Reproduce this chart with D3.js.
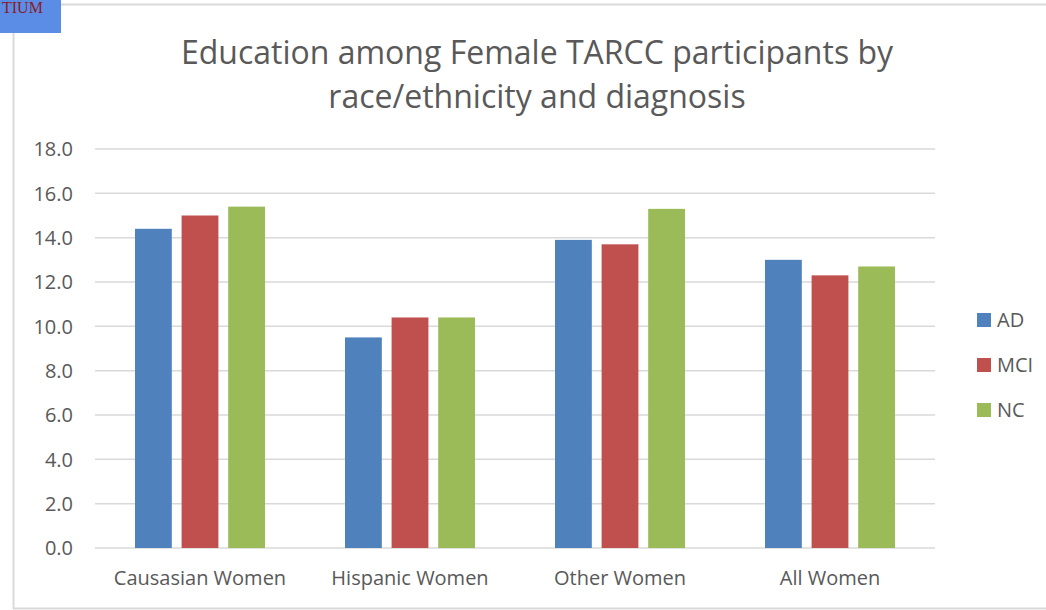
<!DOCTYPE html>
<html><head><meta charset="utf-8">
<script src="https://cdn.jsdelivr.net/npm/d3@7"></script>
<style>body{margin:0;background:#fff;} svg{display:block;}</style>
</head><body>
<svg id="c" width="1046" height="610"></svg>
<script>
const categories = ["Causasian Women", "Hispanic Women", "Other Women", "All Women"];
const seriesNames = ["AD", "MCI", "NC"];
const AD  = [14.4, 9.5, 13.9, 13.0];
const MCI = [15.0, 10.4, 13.7, 12.3];
const NC  = [15.4, 10.4, 15.3, 12.7];
const yTicks = [0, 2, 4, 6, 8, 10, 12, 14, 16, 18];
const titleLines = ["Education among Female TARCC participants by", "race/ethnicity and diagnosis"];
const colors = ["#4f81bd", "#c0504d", "#9bbb59"];
const seriesValues = [AD, MCI, NC];

const svg = d3.select("#c");
const font = "'Open Sans', 'Noto Sans', sans-serif";

// frame
svg.append("line").attr("x1", 13.5).attr("x2", 13.5).attr("y1", 33).attr("y2", 609).attr("stroke", "#d9d9d9").attr("stroke-width", 2);
svg.append("line").attr("x1", 60).attr("x2", 1046).attr("y1", 4.5).attr("y2", 4.5).attr("stroke", "#d9d9d9").attr("stroke-width", 2);
svg.append("line").attr("x1", 13).attr("x2", 1046).attr("y1", 608.5).attr("y2", 608.5).attr("stroke", "#d9d9d9").attr("stroke-width", 2);
svg.append("rect").attr("x", 0).attr("y", 0).attr("width", 61).attr("height", 33).attr("fill", "#5b8de6");
svg.append("text").attr("x", 2).attr("y", 13).attr("font-family", "'Liberation Serif', serif").attr("font-size", 16)
  .attr("fill", "#8b1a2a").text("TIUM");

const x0 = d3.scaleBand().domain(categories).range([95, 935]);
const x1 = d3.scaleBand().domain(seriesNames).range([40, 170]).paddingInner(0.21);
const y = d3.scaleLinear().domain([0, 18]).range([548, 149]);

// gridlines
svg.append("g").selectAll("line").data(yTicks).join("line")
  .attr("x1", 95).attr("x2", 935)
  .attr("y1", d => y(d)).attr("y2", d => y(d))
  .attr("stroke", "#d9d9d9").attr("stroke-width", 1.5);

// y axis labels
svg.append("g").selectAll("text").data(yTicks).join("text")
  .attr("x", 73).attr("y", d => y(d)).attr("dy", "0.36em")
  .attr("text-anchor", "end").attr("font-family", font).attr("font-size", 20)
  .attr("fill", "#595959").text(d => d.toFixed(1));

// bars
const g = svg.append("g");
seriesNames.forEach((s, si) => {
  g.append("g").selectAll("rect").data(seriesValues[si]).join("rect")
    .attr("x", (d, i) => x0(categories[i]) + x1(s))
    .attr("width", x1.bandwidth())
    .attr("y", d => y(d))
    .attr("height", d => y(0) - y(d))
    .attr("fill", colors[si]);
});

// x labels
svg.append("g").selectAll("text").data(categories).join("text")
  .attr("x", d => x0(d) + x0.bandwidth() / 2).attr("y", 585)
  .attr("text-anchor", "middle").attr("font-family", font).attr("font-size", 20)
  .attr("fill", "#595959").text(d => d);

// title
svg.append("g").selectAll("text").data(titleLines).join("text")
  .attr("x", 537).attr("y", (d, i) => 64 + i * 44)
  .attr("text-anchor", "middle").attr("font-family", font).attr("font-size", 32)
  .attr("fill", "#595959").text(d => d);

// legend
const lg = svg.append("g").selectAll("g").data(seriesNames).join("g")
  .attr("transform", (d, i) => `translate(977, ${313 + i * 45})`);
lg.append("rect").attr("width", 14).attr("height", 14).attr("fill", (d, i) => colors[i]);
lg.append("text").attr("x", 20).attr("y", 7).attr("dy", "0.36em")
  .attr("font-family", font).attr("font-size", 20).attr("fill", "#595959").text(d => d);
</script>
</body></html>
